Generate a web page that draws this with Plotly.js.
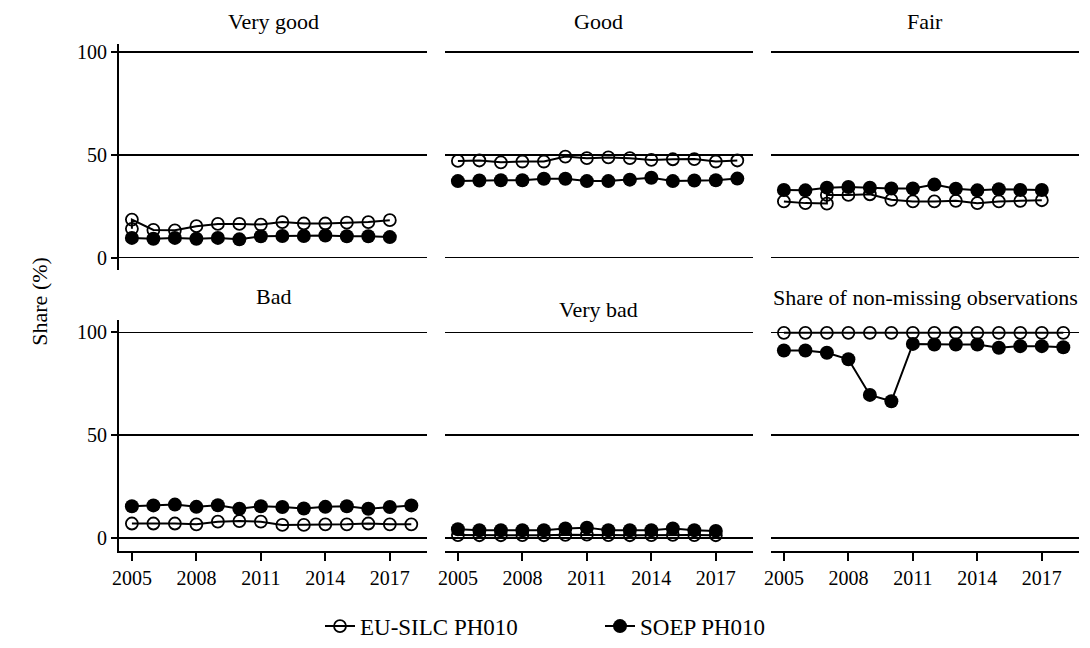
<!DOCTYPE html>
<html>
<head>
<meta charset="utf-8">
<script src="https://cdn.plot.ly/plotly-3.0.1.min.js"></script>
<style>html,body{margin:0;padding:0;background:#fff;}#chart{width:1090px;height:648px;}</style>
</head>
<body>
<div id="chart"></div>
<script>
// ---- data ----
const panelTitles = ["Very good", "Good", "Fair", "Bad", "Very bad", "Share of non-missing observations"];
const seriesNames = ["EU-SILC PH010", "SOEP PH010"];
const tickYears = [2005, 2008, 2011, 2014, 2017];
const yTicks = [0, 50, 100];

const years2018 = [2005, 2006, 2007, 2008, 2009, 2010, 2011, 2012, 2013, 2014, 2015, 2016, 2017, 2018];
const years2017 = [2005, 2006, 2007, 2008, 2009, 2010, 2011, 2012, 2013, 2014, 2015, 2016, 2017];
const silcYearsVeryGood = [2005, 2005, 2006, 2007, 2008, 2009, 2010, 2011, 2012, 2013, 2014, 2015, 2016, 2017];
const silcYearsFair = [2005, 2006, 2007, 2007, 2008, 2009, 2010, 2011, 2012, 2013, 2014, 2015, 2016, 2017];

// Very good
const silcVeryGood = [14.0, 18.5, 13.5, 13.3, 15.3, 16.4, 16.4, 16.1, 17.3, 16.6, 16.6, 17.0, 17.3, 18.2];
const soepVeryGood = [9.6, 9.2, 9.6, 9.2, 9.6, 8.9, 10.4, 10.5, 10.5, 10.8, 10.4, 10.4, 10.0];
// Good
const silcGood = [47.0, 47.2, 46.3, 46.7, 46.7, 49.1, 48.3, 48.7, 48.3, 47.5, 47.8, 47.9, 46.7, 47.2];
const soepGood = [37.2, 37.5, 37.6, 37.6, 38.3, 38.3, 37.2, 37.2, 37.9, 38.8, 37.2, 37.5, 37.6, 38.4];
// Fair
const silcFair = [27.3, 26.5, 26.3, 30.5, 30.5, 30.8, 28.1, 27.3, 27.3, 27.6, 26.5, 27.3, 27.6, 27.9];
const soepFair = [32.9, 32.7, 34.0, 34.3, 34.0, 33.6, 33.6, 35.5, 33.5, 32.7, 33.2, 32.9, 32.9];
// Bad
const silcBad = [7.1, 7.1, 7.1, 6.7, 8.0, 8.3, 8.0, 6.4, 6.4, 6.7, 6.7, 7.1, 6.7, 6.7];
const soepBad = [15.5, 15.9, 16.3, 15.2, 16.0, 14.3, 15.5, 15.1, 14.4, 15.2, 15.5, 14.3, 15.1, 15.9];
// Very bad
const silcVeryBad = [1.5, 1.4, 1.4, 1.5, 1.4, 1.6, 1.7, 1.5, 1.4, 1.5, 1.6, 1.5, 1.4];
const soepVeryBad = [4.3, 3.8, 3.8, 3.8, 3.8, 4.7, 5.1, 3.8, 3.8, 3.8, 4.7, 3.8, 3.5];
// Share of non-missing observations
const silcShare = [99.8, 99.8, 99.8, 99.8, 99.8, 99.8, 99.8, 99.8, 99.7, 99.8, 99.8, 99.8, 99.8, 99.8];
const soepShare = [91.2, 91.2, 90.1, 86.9, 69.6, 66.5, 94.4, 94.1, 94.1, 94.1, 92.5, 93.3, 93.3, 92.8];

const panels = [
  {silcX: silcYearsVeryGood, silcY: silcVeryGood, soepX: years2017, soepY: soepVeryGood},
  {silcX: years2018, silcY: silcGood, soepX: years2018, soepY: soepGood},
  {silcX: silcYearsFair, silcY: silcFair, soepX: years2017, soepY: soepFair},
  {silcX: years2018, silcY: silcBad, soepX: years2018, soepY: soepBad},
  {silcX: years2017, silcY: silcVeryBad, soepX: years2017, soepY: soepVeryBad},
  {silcX: years2018, silcY: silcShare, soepX: years2018, soepY: soepShare}
];

// ---- layout geometry (pixels -> paper) ----
const W = 1090, H = 648;
const colPx = [[119, 427], [445, 753], [771, 1079]];
const rowPx = [[44, 273], [323, 557]];
const FONT = "Liberation Serif";

const traces = [];
const layout = {
  width: W, height: H,
  margin: {l: 0, r: 0, t: 0, b: 0},
  paper_bgcolor: "#ffffff",
  plot_bgcolor: "#ffffff",
  font: {family: FONT, color: "#000", size: 20},
  showlegend: true,
  legend: {
    orientation: "h", x: 320 / W, xanchor: "left", y: 1 - 633 / H, yanchor: "middle",
    font: {family: FONT, size: 23, color: "#000"},
    entrywidth: 235, entrywidthmode: "pixels", bgcolor: "rgba(0,0,0,0)"
  },
  annotations: []
};

const titleY = [22, 22, 22, 300, 313, 301];

panels.forEach((p, i) => {
  const r = Math.floor(i / 3), c = i % 3;
  const sfx = i === 0 ? "" : String(i + 1);
  const xa = "x" + sfx, ya = "y" + sfx;
  traces.push({
    type: "scatter", mode: "lines+markers", x: p.silcX, y: p.silcY, xaxis: xa, yaxis: ya,
    name: seriesNames[0], legendgroup: "silc", showlegend: i === 0,
    line: {color: "#000", width: 2},
    marker: {symbol: "circle-open", size: 12, color: "#000", line: {width: 1.8, color: "#000"}},
    hoverinfo: "x+y"
  });
  traces.push({
    type: "scatter", mode: "lines+markers", x: p.soepX, y: p.soepY, xaxis: xa, yaxis: ya,
    name: seriesNames[1], legendgroup: "soep", showlegend: i === 0,
    line: {color: "#000", width: 2},
    marker: {symbol: "circle", size: 14, color: "#000"},
    hoverinfo: "x+y"
  });
  const xd = [colPx[c][0] / W, colPx[c][1] / W];
  const yd = [1 - rowPx[r][1] / H, 1 - rowPx[r][0] / H];
  layout["xaxis" + sfx] = {
    domain: xd, range: [2004.4, 2018.73], anchor: ya,
    showgrid: false, zeroline: false,
    showline: r === 1, linecolor: "#000", linewidth: 2,
    ticks: r === 1 ? "outside" : "", ticklen: 8, tickwidth: 2, tickcolor: "#000",
    showticklabels: r === 1, tickvals: tickYears, ticktext: tickYears.map(String),
    tickfont: {family: FONT, size: 20, color: "#000"}, fixedrange: true
  };
  layout["yaxis" + sfx] = {
    domain: yd, range: r === 0 ? [-6, 104] : [-6.25, 106.25], anchor: xa,
    showgrid: true, gridcolor: "#000", gridwidth: 1.6, zeroline: false,
    showline: c === 0, linecolor: "#000", linewidth: 2,
    ticks: c === 0 ? "outside" : "", ticklen: 6, tickwidth: 2, tickcolor: "#000",
    showticklabels: c === 0, tickvals: yTicks, ticktext: yTicks.map(String),
    tickfont: {family: FONT, size: 20, color: "#000"}, fixedrange: true
  };
  layout.annotations.push({
    text: panelTitles[i], xref: "paper", yref: "paper",
    x: (colPx[c][0] + colPx[c][1]) / 2 / W, y: 1 - titleY[i] / H,
    xanchor: "center", yanchor: "middle", showarrow: false,
    font: {family: FONT, size: 22, color: "#000"}
  });
});

layout.annotations.push({
  text: "Share (%)", xref: "paper", yref: "paper", x: 40 / W, y: 1 - 305 / H,
  xanchor: "center", yanchor: "middle", showarrow: false, textangle: -90,
  font: {family: FONT, size: 22, color: "#000"}
});

Plotly.newPlot("chart", traces, layout, {displayModeBar: false, staticPlot: true});
</script>
</body>
</html>
